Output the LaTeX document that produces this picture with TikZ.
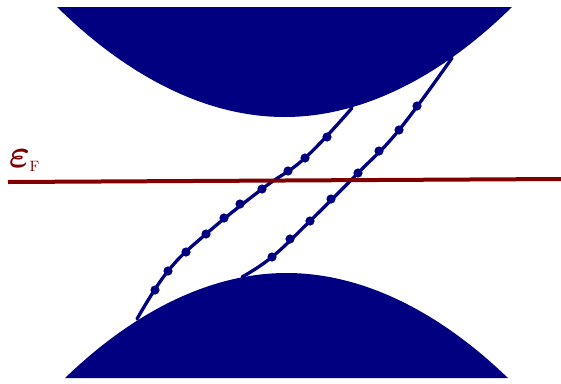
\documentclass[tikz,border=0pt]{standalone}
\definecolor{bandblue}{RGB}{0,0,128}
\definecolor{fermired}{RGB}{128,0,0}
\tikzset{
  band/.style={fill=bandblue},
  edgecurve/.style={draw=bandblue, line width=3.3pt, line cap=round, line join=round},
  dotmark/.style={fill=bandblue},
  fermiline/.style={draw=fermired, line width=4pt}
}
\begin{document}
\begin{tikzpicture}[x=1pt,y=-1pt]
\useasboundingbox (0,0) rectangle (561,383);
% bands
\fill[band] (57,7) -- (512,7) parabola bend (284.5,117) (57,7) -- cycle;
\fill[band] (65,378) parabola bend (286.5,273) (508,378) -- cycle;
% edge-state curves
\draw[edgecurve] plot[smooth, tension=0.7] coordinates {(137,319) (168,271) (206,234) (262,189) (305,158) (352,108)};
\draw[edgecurve] plot[smooth, tension=0.7] coordinates {(242,277) (272,257) (310,221) (358,173) (399,130) (452,58)};
% dots
\foreach \p in {(155,290),(168,271),(186,252),(206,234),(224,218),(240,204),(262,189),(288,171),(305,158),(327,137),
                (272,257),(290,239),(310,221),(331,199),(358,173),(379,151),(399,130),(417,106)}
  \fill[dotmark] \p circle (4.6);
% Fermi level
\coordinate (fl) at (8,182);
\coordinate (fr) at (561,179);
\draw[fermiline] (fl) -- (fr);
\node[text=fermired, anchor=base, inner sep=0pt] (eps) at (19.5,167) {\scalebox{4}{\boldmath$\varepsilon$}};
\node[text=fermired, anchor=base west, inner sep=0pt] (sub) at (29.5,171.5) {\scalebox{1.5}{F}};
\end{tikzpicture}
\end{document}
